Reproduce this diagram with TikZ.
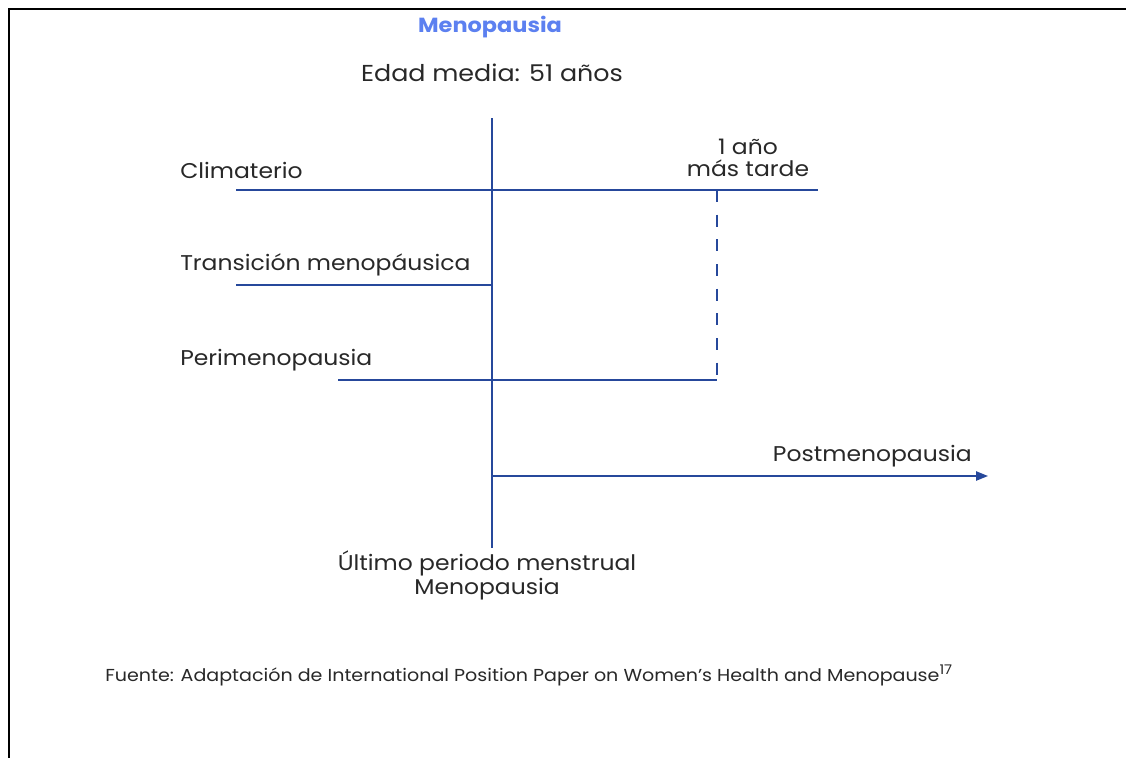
\documentclass[tikz,border=0pt]{standalone}
\usepackage{fontspec}
\setmainfont{Poppins}[FakeStretch=1.1]
\usetikzlibrary{arrows.meta}
\definecolor{lineblue}{RGB}{38,72,155}
\definecolor{titleblue}{RGB}{92,128,240}
\definecolor{txtgray}{RGB}{40,40,40}
\tikzset{
  stage/.style={anchor=west,inner sep=0.75pt,text=txtgray,font=\fontsize{16}{19}\selectfont},
  caption/.style={anchor=center,inner sep=0.75pt,text=txtgray,align=center,font=\fontsize{16}{19}\selectfont},
  phase/.style={color=lineblue,line width=1.1pt}
}
\begin{document}
\begin{tikzpicture}[x=0.75pt,y=0.75pt,yscale=-1,xscale=1]
\useasboundingbox (0,0) rectangle (1126,758);

%Frame
\draw [line width=1.5pt] (1126,9) -- (9,9) -- (9,758);

% Text Node
\node [caption,font=\fontsize{15.3}{18}\selectfont] (title) at (490,27) {\textcolor{titleblue}{\bfseries Menopausia}};
% Text Node
\node [caption,font=\fontsize{17.3}{19}\selectfont] (edad) at (492,73) {Edad media: 51 años};

%Timeline points
\coordinate (top) at (492,118);
\coordinate (bottom) at (492,548);
\coordinate (cliL) at (236,190);
\coordinate (cliR) at (818,190);
\coordinate (dashT) at (717,190);
\coordinate (traL) at (236,285);
\coordinate (traR) at (492,285);
\coordinate (perL) at (338,380);
\coordinate (perR) at (717,380);
\coordinate (postL) at (492,476);
\coordinate (postR) at (988,476);

%Lines
\draw [phase] (top) -- (bottom);
\draw [phase] (cliL) -- (cliR);
\draw [phase] (traL) -- (traR);
\draw [phase] (perL) -- (perR);
\draw [phase,dash pattern=on 9pt off 9.5pt] (dashT) -- (perR);
\draw [phase,-{Triangle[length=9pt,width=7pt]}] (postL) -- (postR);

% Text Node
\node [stage] (climaterio) at (179,170) {Climaterio};
% Text Node
\node [stage] (transicion) at (179,265) {Transición menopáusica};
% Text Node
\node [stage] (peri) at (179,360) {Perimenopausia};
% Text Node
\node [stage,anchor=east] (post) at (973,456) {Postmenopausia};
% Text Node
\node [caption,font=\fontsize{16}{16.5}\selectfont] (unano) at (748,158) {1 año\\más tarde};
% Text Node
\node [caption,font=\fontsize{16}{18}\selectfont] (ultimo) at (487,575) {Último periodo menstrual\\Menopausia};
% Text Node
\node [anchor=west,inner sep=0.75pt,text=txtgray,font=\fontsize{13}{15}\selectfont] (fuente) at (104,675) {Fuente: Adaptación de International Position Paper on Women's Health and Menopause\raisebox{0.75ex}{\fontsize{10}{10}\selectfont 17}};

\end{tikzpicture}
\end{document}
